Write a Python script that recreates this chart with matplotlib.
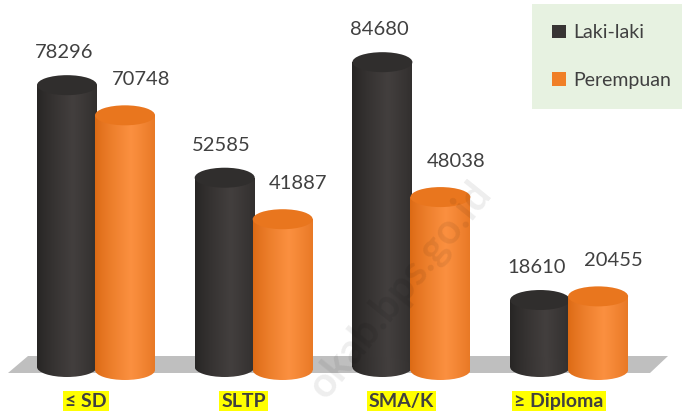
import matplotlib
matplotlib.use("Agg")
import matplotlib.pyplot as plt
from matplotlib.patches import Ellipse, Rectangle, Polygon, Patch
import numpy as np

# === DATA ===
categories = ["≤ SD", "SLTP", "SMA/K", "≥ Diploma"]
laki = [78296, 52585, 84680, 18610]
perempuan = [70748, 41887, 48038, 20455]
series_names = ["Laki-laki", "Perempuan"]

# === STYLE ===
DARK = "#383534"
ORANGE = "#F07F27"
TXT = "#404040"
FONT = "Lato"
plt.rcParams["font.family"] = [FONT, "DejaVu Sans"]

W, H, DPI = 682, 415, 100
PX_X = 157.7          # pixels per category
PX_Y = 277.8          # value units per pixel
X0_PX, BASE_PX = 96, 367

fig = plt.figure(figsize=(W / DPI, H / DPI), dpi=DPI)
ax = fig.add_axes([0, 0, 1, 1])
ax.set_xlim(-X0_PX / PX_X, (W - X0_PX) / PX_X)
ax.set_ylim(-(H - BASE_PX) * PX_Y, BASE_PX * PX_Y)
ax.axis("off")


def px(x, y):
    return ((x - X0_PX) / PX_X, (BASE_PX - y) * PX_Y)


# floor
floor = Polygon([px(8, 373), px(650, 373), px(668, 356), px(28, 356)],
                closed=True, facecolor="#BFBFBF", edgecolor="none", zorder=1)
ax.add_patch(floor)

bw = 60 / PX_X
eh = 20 * PX_Y


def cylinder(xc, val, base, c_edge, c_mid, c_top, z):
    x0 = xc - bw / 2
    body = Rectangle((x0, base), bw, val, facecolor="none", edgecolor="none", zorder=z)
    ax.add_patch(body)
    bottom = Ellipse((xc, base), bw, eh, facecolor="none", edgecolor="none", zorder=z)
    ax.add_patch(bottom)
    # horizontal gradient for shading
    t = np.linspace(0, 1, 64)
    prof = np.clip(1 - np.abs(t - 0.6) / 0.6, 0, 1) ** 0.8
    ce = np.array(matplotlib.colors.to_rgb(c_edge))
    cm = np.array(matplotlib.colors.to_rgb(c_mid))
    img = ce[None, :] + (cm - ce)[None, :] * prof[:, None]
    for clip in (body, bottom):
        im = ax.imshow(img[None, :, :], extent=(x0, x0 + bw, base - eh, base + val),
                       aspect="auto", zorder=z, interpolation="bilinear")
        im.set_clip_path(clip)
    top = Ellipse((xc, base + val), bw, eh, facecolor=c_top, edgecolor="none", zorder=z + 0.1)
    ax.add_patch(top)


off = 29 / PX_X
for i in range(len(categories)):
    cylinder(i - off, laki[i], 0, "#272524", "#433f3e", "#302e2d", 3)
    cylinder(i + off, perempuan[i], -3 * PX_Y, "#DC6A14", "#FB9040", "#E9761E", 4)
    ax.text(i - off - 0.02, laki[i] + 24 * PX_Y, f"{laki[i]}", ha="center", va="bottom",
            fontsize=14.5, color=TXT, zorder=6)
    ax.text(i + off + 0.1, perempuan[i] + 24 * PX_Y, f"{perempuan[i]}", ha="center", va="bottom",
            fontsize=14.5, color=TXT, zorder=6)
    ax.text(i - 10 / PX_X, -34 * PX_Y, categories[i], ha="center", va="center",
            fontsize=14, fontweight="bold", color=TXT, zorder=6,
            bbox=dict(boxstyle="square,pad=0.1", facecolor="#FFFF00", edgecolor="none"))

# watermark
ax.text(*px(400, 290), "okab.bps.go.id", rotation=51, ha="center", va="center",
        fontsize=30, fontweight="bold", color="#000000", alpha=0.07, zorder=7)

handles = [Patch(facecolor=DARK, edgecolor="none"), Patch(facecolor=ORANGE, edgecolor="none")]
leg = ax.legend(handles, series_names, loc="upper left", bbox_to_anchor=(532 / W, 1 - 4 / H),
                frameon=True, fontsize=14, handlelength=0.7, handleheight=0.7,
                handletextpad=0.35, labelspacing=1.55, borderpad=1.05, borderaxespad=0,
                fancybox=False, labelcolor=TXT)
leg.get_frame().set_facecolor("#E2EFDA")
leg.get_frame().set_edgecolor("none")
leg.set_zorder(8)

fig.savefig("out.png", dpi=DPI)
